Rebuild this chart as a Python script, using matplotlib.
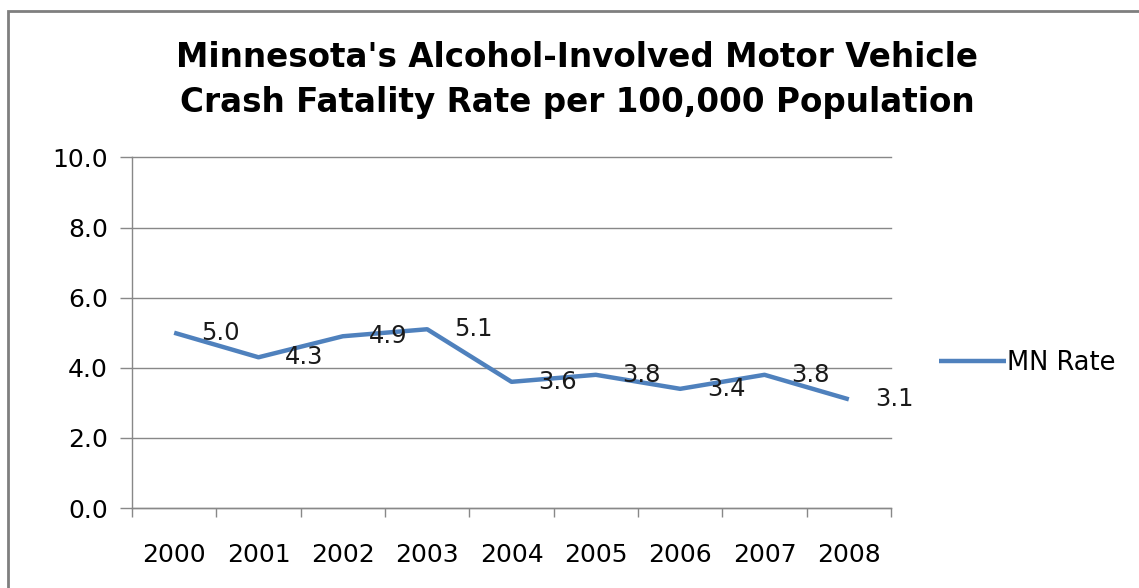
"""Minnesota alcohol-involved crash fatality rate, Excel-style line chart."""
import matplotlib

matplotlib.use("Agg")
import matplotlib.pyplot as plt
from matplotlib.patches import Rectangle

# --- data -------------------------------------------------------------------
YEARS = ["2000", "2001", "2002", "2003", "2004", "2005", "2006", "2007", "2008"]
MN_RATE = [5.0, 4.3, 4.9, 5.1, 3.6, 3.8, 3.4, 3.8, 3.1]
Y_TICKS = [0.0, 2.0, 4.0, 6.0, 8.0, 10.0]

TITLE = "Minnesota's Alcohol-Involved Motor Vehicle\nCrash Fatality Rate per 100,000 Population"
SERIES = "MN Rate"

LINE_COLOR = "#4F81BD"
GRID_COLOR = "#888888"

W, H = 1139, 588
fig = plt.figure(figsize=(W / 100, H / 100), dpi=100)
ax = fig.add_axes([132 / W, 1 - 508 / H, (891 - 132) / W, (508 - 157.5) / H])

x = list(range(len(YEARS)))
ax.plot(x, MN_RATE, color=LINE_COLOR, linewidth=3.2, solid_joinstyle="round",
        solid_capstyle="butt", label=SERIES)
for xi, v in zip(x, MN_RATE):
    ax.annotate(f"{v:.1f}", (xi, v), xytext=(33, 0), textcoords="offset points",
                ha="center", va="center", fontsize=17.5, color="#1a1a1a")

ax.set_xlim(-0.5, len(YEARS) - 0.5)
ax.set_ylim(0, 10)
ax.set_yticks(Y_TICKS)
ax.set_yticklabels([f"{t:.1f}" for t in Y_TICKS], fontsize=18)
ax.yaxis.grid(True, color=GRID_COLOR, linewidth=1.0)
for gl in ax.get_ygridlines():
    gl.set_clip_on(False)
ax.set_axisbelow(True)

# categories labelled at centres, tick marks between them
ax.set_xticks(x)
ax.set_xticklabels(YEARS, fontsize=18)
ax.set_xticks([i - 0.5 for i in range(len(YEARS) + 1)], minor=True)
ax.tick_params(axis="x", which="major", length=0, pad=25)
ax.tick_params(axis="x", which="minor", length=6.5, width=1.0, color=GRID_COLOR)
ax.tick_params(axis="y", length=8.4, width=1.0, color=GRID_COLOR, pad=9)

for side in ("top", "right"):
    ax.spines[side].set_visible(False)
for side in ("left", "bottom"):
    ax.spines[side].set_color(GRID_COLOR)
    ax.spines[side].set_linewidth(1.0)

fig.legend(loc="center left", bbox_to_anchor=(929 / W, 1 - 363 / H), frameon=False,
           fontsize=18.5, handlelength=2.6, handletextpad=0.05, borderaxespad=0)

fig.text(0.507, 1 - 80 / H, TITLE, ha="center", va="center", fontsize=23.5,
         fontweight="bold", linespacing=1.45)

# outer chart-area border
fig.patches.append(Rectangle((8 / W, -0.1), 1.2, 1 - 11 / H + 0.1, transform=fig.transFigure,
                             fill=False, edgecolor="#7f7f7f", linewidth=2.0))

fig.savefig("out.png", dpi=100)
